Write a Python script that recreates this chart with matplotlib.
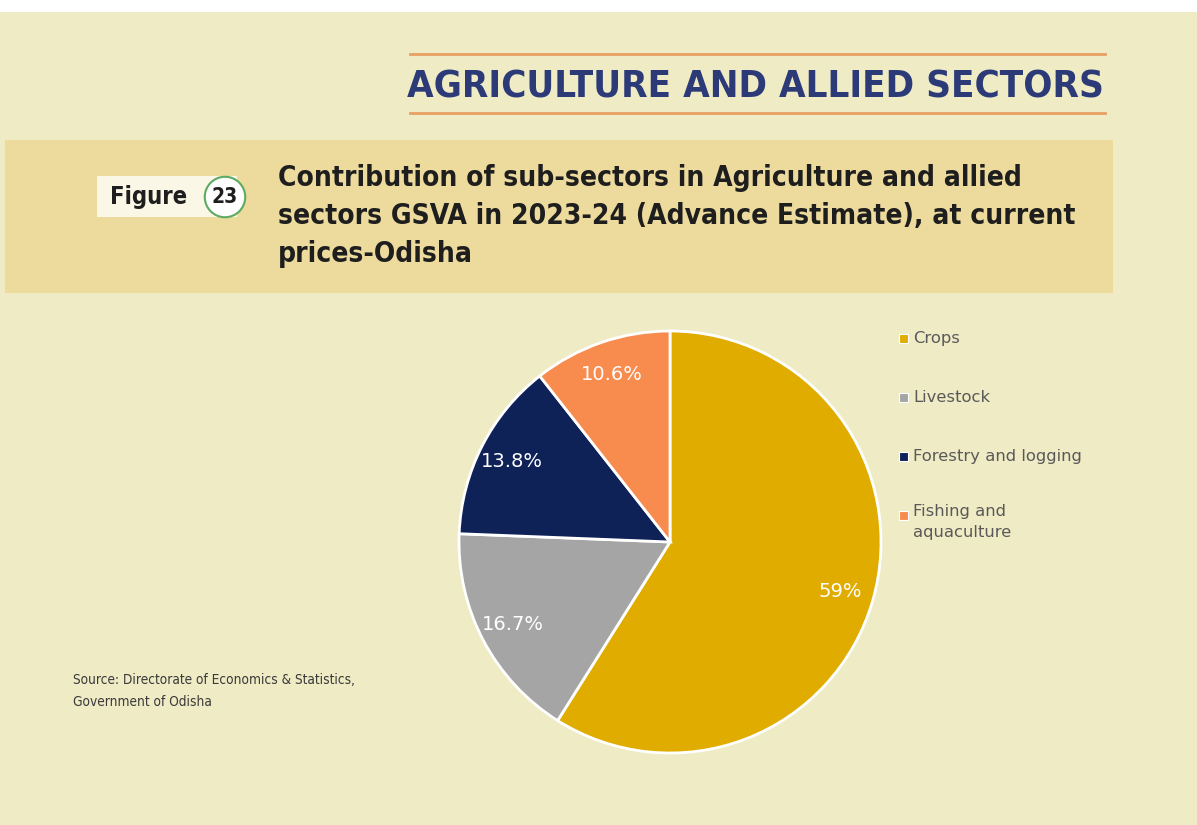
import matplotlib.pyplot as plt
from matplotlib.patches import Rectangle, Circle

sectors = ["Crops", "Livestock", "Forestry and logging", "Fishing and\naquaculture"]
shares = [59.0, 16.7, 13.8, 10.6]
share_labels = ["59%", "16.7%", "13.8%", "10.6%"]
colors = ["#E0AC00", "#A5A5A5", "#0E2258", "#F88B4E"]

W, H = 1197, 825
fig = plt.figure(figsize=(W / 100, H / 100), dpi=100)
fig.patch.set_facecolor("#EFEBC5")
COND = dict(family="DejaVu Sans", fontstretch="condensed")


def px(x, y):
    # pixel coords (top-left origin) -> figure fraction
    return x / W, 1 - y / H


# white strip at the very top
fig.patches.append(Rectangle(px(0, 12), 1, 12 / H, transform=fig.transFigure,
                             facecolor="white", edgecolor="none"))

# header lines + title
for yy in (54, 113):
    fig.add_artist(plt.Line2D([410 / W, 1105 / W], [1 - yy / H] * 2,
                              transform=fig.transFigure, color="#E8A062", lw=2))
fig.text(*px(1104, 87), "AGRICULTURE AND ALLIED SECTORS", ha="right", va="center",
         fontsize=27.5, color="#2C3A78", fontweight="bold", **COND)

# banner
fig.patches.append(Rectangle(px(5, 293), 1108 / W, 153 / H, transform=fig.transFigure,
                             facecolor="#EDDB9E", edgecolor="none"))
fig.patches.append(Rectangle(px(97, 217), 140 / W, 41 / H, transform=fig.transFigure,
                             facecolor="#FBF7E6", edgecolor="none"))
fig.text(*px(110, 197), "Figure", ha="left", va="center", fontsize=17,
         color="#1E1E1E", fontweight="bold", **COND)
circ_ax = fig.add_axes([203 / W, 1 - 219 / H, 44 / W, 44 / H], zorder=5)
circ_ax.set_xlim(-1, 1)
circ_ax.set_ylim(-1, 1)
circ_ax.set_aspect("equal")
circ_ax.axis("off")
circ_ax.add_patch(Circle((0, 0), 0.92, facecolor="white", edgecolor="#5DAA63", lw=1.5))
circ_ax.text(0, 0, "23", ha="center", va="center", fontsize=15, fontweight="bold",
             color="#1E1E1E", **COND)

title_lines = ["Contribution of sub-sectors in Agriculture and allied",
               "sectors GSVA in 2023-24 (Advance Estimate), at current",
               "prices-Odisha"]
for i, line in enumerate(title_lines):
    fig.text(*px(278, 178 + 38 * i), line, ha="left", va="center", fontsize=20.2,
             fontweight="bold", color="#1E1E1E", **COND)

# pie
cx, cy, r = 670, 542, 211
ax = fig.add_axes([(cx - r) / W, 1 - (cy + r) / H, 2 * r / W, 2 * r / H], zorder=3)
lab_iter = iter(share_labels)
wedges, texts, autotexts = ax.pie(
    shares, colors=colors, startangle=90, counterclock=False,
    autopct=lambda p: next(lab_iter), pctdistance=0.84,
    wedgeprops=dict(edgecolor="white", linewidth=2),
    textprops=dict(color="white", fontsize=14))
ax.set_xlim(-1, 1)
ax.set_ylim(-1, 1)
ax.set_aspect("equal")

# legend
for i, (name, col) in enumerate(zip(sectors, colors)):
    y = 338 + 59 * i
    fig.patches.append(Rectangle(px(899, y + 5), 9 / W, 9 / H, transform=fig.transFigure,
                                 facecolor=col, edgecolor="white", lw=0.8))
    if "\n" in name:
        fig.text(913 / W, 1 - (y - 11) / H, name, ha="left", va="top", fontsize=11.8,
                 color="#595959", linespacing=1.5)
    else:
        fig.text(*px(913, y), name, ha="left", va="center", fontsize=11.8, color="#595959")

# source
fig.text(*px(73, 680), "Source: Directorate of Economics & Statistics,", ha="left",
         va="center", fontsize=9.8, color="#3A3A3A", **COND)
fig.text(*px(73, 702), "Government of Odisha", ha="left", va="center", fontsize=9.8,
         color="#3A3A3A", **COND)

fig.savefig("out.png", dpi=100, facecolor=fig.get_facecolor())
